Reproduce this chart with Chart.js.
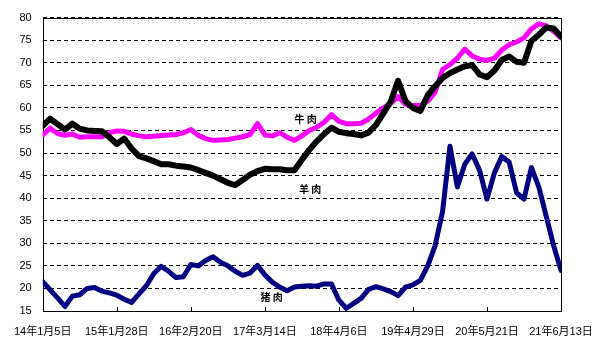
<!DOCTYPE html>
<html>
<head>
<meta charset="utf-8">
<script src="https://cdn.jsdelivr.net/npm/chart.js@4"></script>
<style>
  html, body { margin: 0; padding: 0; background: #fff; }
  #wrap { width: 612px; height: 351px; position: relative; }
</style>
</head>
<body>
<div id="wrap"><canvas id="c" width="612" height="351"></canvas></div>
<script>
// ---- data ----
const dateLabels = ["14年1月5日", "15年1月28日", "16年2月20日", "17年3月14日", "18年4月6日", "19年4月29日", "20年5月21日", "21年6月13日"];
const yTicks = [15, 20, 25, 30, 35, 40, 45, 50, 55, 60, 65, 70, 75, 80];

const lamb = [56.0, 57.6, 56.4, 55.2, 56.5, 55.4, 55.0, 54.9, 54.8, 53.5,
  52.0, 53.2, 51.0, 49.3, 48.8, 48.2, 47.5, 47.5, 47.2, 47.0,
  46.8, 46.2, 45.6, 45.0, 44.2, 43.4, 42.9, 44.0, 45.2, 46.0,
  46.5, 46.4, 46.4, 46.2, 46.2, 48.5, 50.7, 52.6, 54.2, 55.6,
  54.7, 54.4, 54.2, 53.9, 54.5, 56.2, 58.8, 61.4, 66.0, 61.5,
  60.0, 59.3, 62.8, 64.8, 66.6, 67.7, 68.5, 69.2, 69.5, 67.4,
  66.8, 68.3, 70.6, 71.4, 70.2, 70.0, 74.8, 76.2, 77.8, 77.6, 75.8];

const beef = [54.0, 55.5, 54.3, 53.9, 54.2, 53.5, 53.6, 53.6, 53.6, 54.5,
  54.9, 54.8, 54.2, 53.8, 53.6, 53.7, 53.9, 54.0, 54.1, 54.5,
  55.2, 53.9, 53.2, 52.8, 52.9, 53.0, 53.3, 53.6, 54.1, 56.5,
  54.0, 53.8, 54.5, 53.5, 52.8, 53.8, 55.0, 55.7, 56.8, 58.5,
  57.0, 56.5, 56.5, 56.6, 57.5, 58.8, 60.0, 61.0, 62.5, 60.8,
  60.5, 60.6, 61.5, 63.5, 68.5, 69.6, 71.0, 73.0, 71.5, 70.8,
  70.5, 71.0, 72.8, 74.0, 74.6, 75.5, 77.5, 78.6, 78.2, 77.0, 75.5];

const pork = [21.5, 19.7, 17.9, 16.0, 18.3, 18.6, 20.0, 20.2, 19.4, 19.0,
  18.5, 17.6, 16.9, 18.8, 20.6, 23.3, 24.9, 23.8, 22.4, 22.6,
  25.3, 25.0, 26.2, 27.0, 25.8, 25.0, 23.8, 22.9, 23.4, 25.1,
  23.0, 21.4, 20.3, 19.5, 20.3, 20.5, 20.6, 20.5, 21.0, 21.0,
  17.4, 15.6, 16.7, 17.8, 19.8, 20.4, 19.9, 19.3, 18.4, 20.3,
  20.8, 21.8, 25.0, 29.5, 37.0, 51.5, 42.5, 47.5, 49.8, 46.2,
  39.8, 45.6, 49.2, 48.0, 41.2, 39.8, 46.8, 42.5, 36.0, 29.5, 24.0];

const seriesNames = ["羊肉", "牛肉", "猪肉"];
// label anchors in data coordinates [x index, y value]
const labelAnchors = [[36.1, 42.0], [35.5, 57.4], [30.9, 18.1]];

// ---- build ----
const STEP = 10; // points per labelled interval
const toXY = arr => arr.map((v, i) => ({ x: i, y: v }));

const axisFont = { family: "'Liberation Sans', 'Noto Sans CJK SC', sans-serif", size: 11 };

const framePlugin = {
  id: 'frame',
  beforeDatasetsDraw(chart) {
    const { ctx, chartArea: a, scales } = chart;
    ctx.save();
    ctx.strokeStyle = '#000';
    ctx.lineWidth = 1;
    ctx.setLineDash([]);
    ctx.strokeRect(Math.round(a.left) + 0.5, Math.round(a.top) + 0.5, Math.round(a.right - a.left), Math.round(a.bottom - a.top));
    // inward tick marks on x axis
    ctx.beginPath();
    scales.x.ticks.forEach(t => {
      const px = Math.round(scales.x.getPixelForValue(t.value)) + 0.5;
      ctx.moveTo(px, a.bottom);
      ctx.lineTo(px, a.bottom - 4);
    });
    ctx.stroke();
    ctx.restore();
  },
  afterDatasetsDraw(chart) {
    const { ctx, scales } = chart;
    ctx.save();
    ctx.fillStyle = '#000';
    ctx.font = "bold 10px 'Noto Sans CJK SC', sans-serif";
    ctx.textAlign = 'center';
    ctx.textBaseline = 'middle';
    seriesNames.forEach((n, i) => {
      const [xv, yv] = labelAnchors[i];
      ctx.fillText(n.split('').join(' '), scales.x.getPixelForValue(xv), scales.y.getPixelForValue(yv));
    });
    ctx.restore();
  }
};

new Chart(document.getElementById('c'), {
  type: 'line',
  data: {
    datasets: [
      { label: seriesNames[0], data: toXY(lamb), borderColor: '#000000', borderWidth: 6 },
      { label: seriesNames[1], data: toXY(beef), borderColor: '#FF00FF', borderWidth: 5 },
      { label: seriesNames[2], data: toXY(pork), borderColor: '#000080', borderWidth: 5 }
    ]
  },
  options: {
    responsive: false,
    animation: false,
    devicePixelRatio: 1,
    layout: { padding: { top: 17, right: 51, left: 0, bottom: 0 } },
    elements: {
      point: { radius: 0 },
      line: { tension: 0, borderJoinStyle: 'round', borderCapStyle: 'round' }
    },
    plugins: { legend: { display: false }, tooltip: { enabled: false } },
    scales: {
      x: {
        type: 'linear',
        min: 0,
        max: (dateLabels.length - 1) * STEP,
        afterFit(s) { s.height = 40; },
        afterBuildTicks(s) { s.ticks = dateLabels.map((_, i) => ({ value: i * STEP })); },
        ticks: {
          autoSkip: false, maxRotation: 0, minRotation: 0, padding: 14,
          color: '#000', font: axisFont,
          callback: v => dateLabels[Math.round(v / STEP)]
        },
        grid: { display: false, drawTicks: false },
        border: { display: false }
      },
      y: {
        min: yTicks[0],
        max: yTicks[yTicks.length - 1],
        afterFit(s) { s.width = 36; },
        afterBuildTicks(s) { s.ticks = yTicks.map(v => ({ value: v })); },
        ticks: { padding: 11, color: '#000', font: axisFont },
        grid: { color: '#000', lineWidth: 1, drawTicks: false },
        border: { display: false, dash: [4, 3] }
      }
    }
  },
  plugins: [framePlugin]
});
</script>
</body>
</html>
